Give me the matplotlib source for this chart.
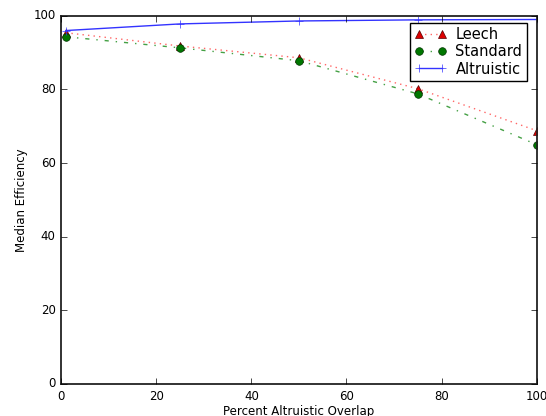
import matplotlib
matplotlib.use("Agg")
import matplotlib.pyplot as plt

plt.style.use("classic")

# percent altruistic overlap
overlap = [1, 25, 50, 75, 100]

leech = [95.4, 91.8, 88.6, 80.2, 68.8]
standard = [94.3, 91.3, 87.8, 78.8, 65.0]
altruistic = [96.0, 97.8, 98.6, 98.9, 99.0]

fig = plt.figure(figsize=(5.46, 4.16), dpi=100)
ax = fig.add_axes([0.112, 0.077, 0.871, 0.885])

ax.plot(overlap, leech, "^:", color="#ff6666", mfc="#dd0000", mec="#550000",
        ms=5.5, label="Leech")
ax.plot(overlap, standard, "o-.", color="#44a044", mfc="#007700", mec="#003300",
        ms=5.5, label="Standard")
ax.plot(overlap, altruistic, "+-", color="#3333ff", mec="#3333ff",
        ms=6, label="Altruistic")

ax.set_xlim(0, 100)
ax.set_ylim(0, 100)
ax.tick_params(labelsize=8.5)
for s in ax.spines.values():
    s.set_linewidth(1.3)
    s.set_color("#222222")
ax.set_xlabel("Percent Altruistic Overlap", fontsize=8.5, labelpad=2)
ax.set_ylabel("Median Efficiency", fontsize=8.5, labelpad=4)

ax.legend(loc="upper right", bbox_to_anchor=(0.979, 0.981), borderaxespad=0,
          fontsize=10.5, numpoints=2, handlelength=2.2, labelspacing=0.15,
          handletextpad=0.6, borderpad=0.3)

fig.savefig("out.png", dpi=100)
